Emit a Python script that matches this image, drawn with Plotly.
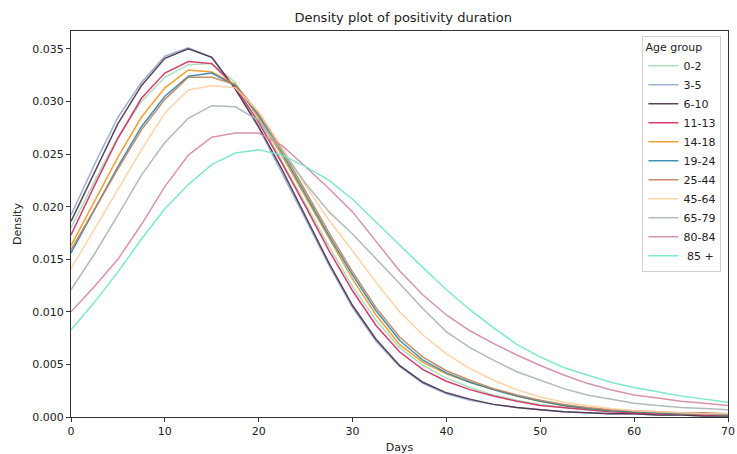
import plotly.graph_objects as go

# Evaluation grid (days) shared by all age-group density curves
days = [0, 2.5, 5, 7.5, 10, 12.5, 15, 17.5, 20, 22.5, 25, 27.5, 30, 32.5, 35,
        37.5, 40, 42.5, 45, 47.5, 50, 52.5, 55, 57.5, 60, 62.5, 65, 67.5, 70]

age_groups = ["0-2", "3-5", "6-10", "11-13", "14-18", "19-24",
              "25-44", "45-64", "65-79", "80-84", " 85 +"]

dens_0_2 = [0.0180, 0.0224, 0.0266, 0.0300, 0.0323, 0.0335, 0.0336, 0.0318, 0.0283, 0.0243,
            0.0203, 0.0162, 0.0124, 0.0092, 0.0066, 0.0049, 0.0037, 0.0028, 0.0021, 0.0016,
            0.0012, 0.0009, 0.0007, 0.0005, 0.0004, 0.0003, 0.0003, 0.0002, 0.0002]
dens_3_5 = [0.0192, 0.0240, 0.0285, 0.0318, 0.0343, 0.0351, 0.0342, 0.0312, 0.0275, 0.0232,
            0.0188, 0.0144, 0.0104, 0.0072, 0.0048, 0.0032, 0.0022, 0.0016, 0.0012, 0.0009,
            0.0007, 0.0005, 0.0004, 0.0003, 0.0003, 0.0002, 0.0002, 0.0001, 0.0001]
dens_6_10 = [0.0186, 0.0233, 0.0279, 0.0315, 0.0341, 0.0350, 0.0342, 0.0312, 0.0276, 0.0235,
             0.0191, 0.0146, 0.0106, 0.0074, 0.0049, 0.0033, 0.0023, 0.0017, 0.0012, 0.0009,
             0.0007, 0.0005, 0.0004, 0.0003, 0.0003, 0.0002, 0.0002, 0.0001, 0.0001]
dens_11_13 = [0.0173, 0.0220, 0.0265, 0.0303, 0.0327, 0.0338, 0.0336, 0.0314, 0.0280, 0.0241,
              0.0200, 0.0158, 0.0120, 0.0087, 0.0062, 0.0045, 0.0034, 0.0026, 0.0020, 0.0015,
              0.0011, 0.0009, 0.0007, 0.0005, 0.0004, 0.0003, 0.0003, 0.0002, 0.0002]
dens_14_18 = [0.0163, 0.0205, 0.0247, 0.0285, 0.0313, 0.0330, 0.0328, 0.0316, 0.0285, 0.0248,
              0.0209, 0.0169, 0.0131, 0.0097, 0.0069, 0.0052, 0.0041, 0.0033, 0.0026, 0.0020,
              0.0015, 0.0011, 0.0008, 0.0006, 0.0005, 0.0004, 0.0003, 0.0003, 0.0002]
dens_19_24 = [0.0156, 0.0197, 0.0238, 0.0276, 0.0305, 0.0324, 0.0327, 0.0315, 0.0287, 0.0251,
              0.0212, 0.0172, 0.0135, 0.0101, 0.0073, 0.0054, 0.0042, 0.0033, 0.0026, 0.0020,
              0.0015, 0.0011, 0.0008, 0.0006, 0.0005, 0.0004, 0.0003, 0.0003, 0.0002]
dens_25_44 = [0.0159, 0.0198, 0.0236, 0.0273, 0.0302, 0.0323, 0.0323, 0.0316, 0.0289, 0.0254,
              0.0215, 0.0175, 0.0138, 0.0104, 0.0076, 0.0057, 0.0044, 0.0035, 0.0027, 0.0021,
              0.0016, 0.0012, 0.0009, 0.0007, 0.0006, 0.0005, 0.0004, 0.0004, 0.0003]
dens_45_64 = [0.0141, 0.0179, 0.0216, 0.0254, 0.0289, 0.0311, 0.0315, 0.0313, 0.0290, 0.0256,
              0.0220, 0.0187, 0.0158, 0.0128, 0.0100, 0.0078, 0.0060, 0.0046, 0.0035, 0.0026,
              0.0019, 0.0014, 0.0011, 0.0008, 0.0006, 0.0005, 0.0004, 0.0003, 0.0003]
dens_65_79 = [0.0121, 0.0155, 0.0192, 0.0230, 0.0261, 0.0284, 0.0296, 0.0295, 0.0282, 0.0253,
              0.0222, 0.0195, 0.0174, 0.0151, 0.0127, 0.0103, 0.0081, 0.0066, 0.0054, 0.0043,
              0.0035, 0.0027, 0.0021, 0.0017, 0.0013, 0.0011, 0.0009, 0.0008, 0.0007]
dens_80_84 = [0.0100, 0.0124, 0.0150, 0.0183, 0.0219, 0.0249, 0.0266, 0.0270, 0.0270, 0.0258,
              0.0238, 0.0217, 0.0195, 0.0167, 0.0139, 0.0116, 0.0097, 0.0082, 0.0070, 0.0059,
              0.0049, 0.0040, 0.0032, 0.0026, 0.0021, 0.0018, 0.0015, 0.0013, 0.0011]
dens_85_plus = [0.0083, 0.0109, 0.0138, 0.0169, 0.0198, 0.0221, 0.0240, 0.0251, 0.0254, 0.0249,
                0.0238, 0.0225, 0.0207, 0.0185, 0.0163, 0.0142, 0.0121, 0.0102, 0.0085, 0.0069,
                0.0057, 0.0047, 0.0040, 0.0033, 0.0028, 0.0024, 0.0020, 0.0017, 0.0014]

series = [dens_0_2, dens_3_5, dens_6_10, dens_11_13, dens_14_18, dens_19_24,
          dens_25_44, dens_45_64, dens_65_79, dens_80_84, dens_85_plus]

colors = ["#a3dcb6", "#93acd2", "#4a2f47", "#d4285c", "#f2961c", "#2f85ad",
          "#c0825a", "#ffcf9e", "#a7b6b1", "#d4899f", "#6fe6cb"]

FONT = "DejaVu Sans"

fig = go.Figure()
for name, vals, col in zip(age_groups, series, colors):
    fig.add_trace(go.Scatter(
        x=days, y=vals, name=name, mode="lines",
        line=dict(color=col, width=1.5), opacity=0.9,
    ))

axis_common = dict(
    showline=True, linecolor="#333333", linewidth=1, mirror=True,
    ticks="outside", ticklen=4, tickcolor="#333333",
    showgrid=False, zeroline=False, ticklabeloverflow="allow",
    tickfont=dict(family=FONT, size=11, color="#222222"),
)

fig.update_layout(
    width=737, height=454,
    margin=dict(l=71, r=2, t=31, b=36),
    paper_bgcolor="white", plot_bgcolor="white",
    title=dict(text="Density plot of positivity duration", x=0.547, xanchor="center",
               y=0.962, yanchor="middle",
               font=dict(family=FONT, size=13, color="#222222")),
    font=dict(family=FONT, color="#222222"),
    xaxis=dict(range=[0, 70], tickvals=[0, 10, 20, 30, 40, 50, 60, 70],
               title=dict(text="Days", font=dict(family=FONT, size=11), standoff=6),
               **axis_common),
    yaxis=dict(range=[0, 0.0367], tickvals=[0, 0.005, 0.01, 0.015, 0.02, 0.025, 0.03, 0.035],
               tickformat=".3f",
               title=dict(text="Density", font=dict(family=FONT, size=11), standoff=8),
               **axis_common),
    legend=dict(
        title=dict(text="Age group", font=dict(family=FONT, size=11)),
        font=dict(family=FONT, size=11),
        x=0.99, xanchor="right", y=0.987, yanchor="top",
        bordercolor="#d0d0d0", borderwidth=1, bgcolor="rgba(255,255,255,0.85)",
        tracegroupgap=0, itemwidth=30,
    ),
    showlegend=True,
)

fig.write_html("out.html")
